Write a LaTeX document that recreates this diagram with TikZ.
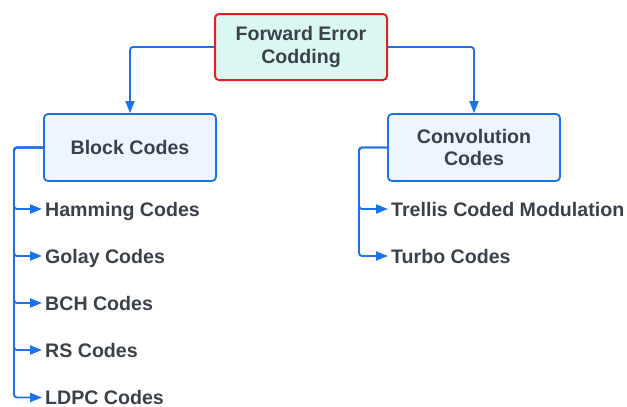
\documentclass[tikz,border=0pt]{standalone}
\usepackage{fontspec}
\setmainfont{Liberation Sans}
\usetikzlibrary{arrows.meta}
\definecolor{txt}{HTML}{3A414A}
\definecolor{lblue}{HTML}{1A73E8}
\definecolor{boxfill}{HTML}{EDF5FF}
\definecolor{rootfill}{HTML}{DAF8F2}
\definecolor{rootred}{HTML}{E41E26}
\begin{document}
\begin{tikzpicture}[x=1pt,y=-1pt,
  font=\fontsize{19.6}{22.5}\selectfont\bfseries, text=txt,
  rootbox/.style={draw=rootred, fill=rootfill, line width=2pt, rounded corners=4pt,
    minimum width=172pt, minimum height=66pt, align=center, inner sep=0pt},
  catbox/.style={draw=lblue, fill=boxfill, line width=1.8pt, rounded corners=4pt,
    minimum width=172pt, minimum height=67pt, align=center, inner sep=0pt},
  leaf/.style={anchor=west, inner xsep=3pt, inner ysep=0pt, text height=14pt, text depth=0pt},
  conn/.style={draw=lblue, line width=1.9pt, rounded corners=3pt},
  arr/.style={conn, -{Triangle[length=12pt,width=9pt]}}
]
\useasboundingbox (0,0) rectangle (627,407);
\node[rootbox] (root) at (301,47) {Forward Error\\Codding};
\node[catbox] (block) at (130,147.5) {Block Codes};
\node[catbox] (conv) at (474,147.5) {Convolution\\Codes};

\node[leaf] (ham) at (42,209) {Hamming Codes};
\node[leaf] (gol) at (42,256) {Golay Codes};
\node[leaf] (bch) at (42,303) {BCH Codes};
\node[leaf] (rs) at (42,350) {RS Codes};
\node[leaf] (ldpc) at (42,397.5) {LDPC Codes};

\node[leaf] (tcm) at (388,209) {Trellis Coded Modulation};
\node[leaf] (turbo) at (388,256) {Turbo Codes};

\draw[arr] (root.west) -| (block.north);
\draw[arr] (root.east) -| (conv.north);

\coordinate (lb) at (14,147.5);
\coordinate (rb) at (359,147.5);
\foreach \c in {ham,gol,bch,rs,ldpc}
  \draw[arr] (block.west) -- (lb) |- (\c.west);
\foreach \c in {tcm,turbo}
  \draw[arr] (conv.west) -- (rb) |- (\c.west);
\end{tikzpicture}
\end{document}
